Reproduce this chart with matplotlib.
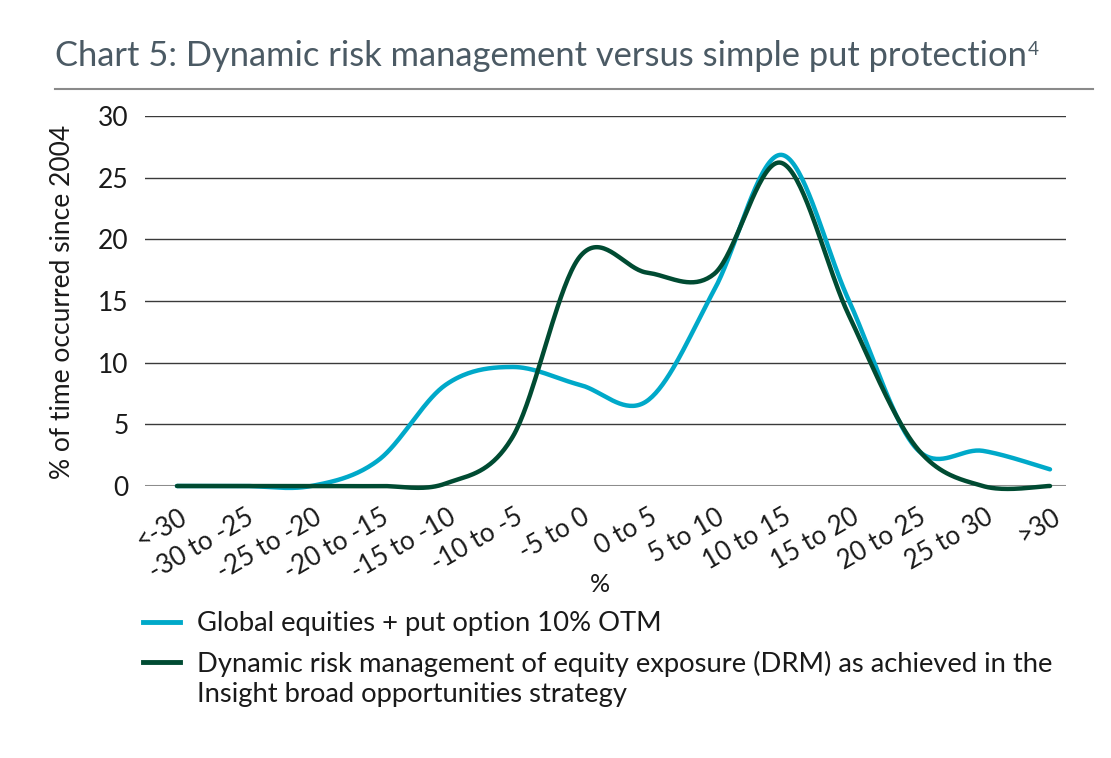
import numpy as np
import matplotlib
matplotlib.use("Agg")
import matplotlib.pyplot as plt
from matplotlib.lines import Line2D
from matplotlib.transforms import ScaledTranslation

plt.rcParams['font.family'] = ['Lato', 'DejaVu Sans']

# data (% of time occurred since 2004)
categories = ["<-30", "-30 to -25", "-25 to -20", "-20 to -15", "-15 to -10", "-10 to -5",
              "-5 to 0", "0 to 5", "5 to 10", "10 to 15", "15 to 20", "20 to 25",
              "25 to 30", ">30"]
put_option = [0.0, 0.0, 0.0, 2.1, 8.2, 9.65, 8.2, 6.9, 15.9, 26.85, 15.1, 3.1, 2.85, 1.35]
drm = [0.0, 0.0, 0.0, 0.0, 0.2, 4.0, 18.6, 17.3, 17.2, 26.2, 13.9, 3.2, 0.0, 0.0]

series_names = ["Global equities + put option 10% OTM",
                "Dynamic risk management of equity exposure (DRM) as achieved in the\n"
                "Insight broad opportunities strategy"]

BLUE = "#00A9C9"
GREEN = "#004B32"
W, H = 1111, 758


def smooth(values, n=40):
    """Excel style smoothed line: bezier segments through every point"""
    pts = np.column_stack([np.arange(len(values)), values]).astype(float)
    ext = np.vstack([pts[0], pts, pts[-1]])
    t = np.linspace(0, 1, n)[:, None]
    out = []
    for i in range(len(pts) - 1):
        p0, p1, p2, p3 = ext[i], ext[i + 1], ext[i + 2], ext[i + 3]
        c1 = p1 + (p2 - p0) / 6
        c2 = p2 - (p3 - p1) / 6
        seg = (1 - t) ** 3 * p1 + 3 * (1 - t) ** 2 * t * c1 + 3 * (1 - t) * t ** 2 * c2 + t ** 3 * p2
        out.append(seg if i == 0 else seg[1:])
    out = np.vstack(out)
    return out[:, 0], out[:, 1]


fig = plt.figure(figsize=(W / 100, H / 100), dpi=100)
renderer = fig.canvas.get_renderer()


def fit_size(text, target_px, base=20):
    t = fig.text(0, 0, text, fontsize=base)
    w = t.get_window_extent(renderer).width
    t.remove()
    return base * target_px / w


ax = fig.add_axes([145 / W, 1 - 486 / H, (1066 - 145) / W, (486 - 116) / H])
step = (1050 - 177) / 13
ax.set_xlim(-(177 - 145) / step, 13 + (1066 - 1050) / step)
ax.set_ylim(0, 30)

for v in range(0, 31, 5):
    if v == 0:
        ax.axhline(v, color="#8c8c8c", lw=2.2, zorder=1)
    else:
        ax.axhline(v, color="#3a3a3a", lw=1.0, zorder=1)

x_blue, y_blue = smooth(put_option)
x_green, y_green = smooth(drm)
ax.plot(x_blue, y_blue, color=BLUE, lw=3.2, zorder=3, clip_on=False, solid_capstyle="round")
ax.plot(x_green, y_green, color=GREEN, lw=3.2, zorder=4, clip_on=False, solid_capstyle="round")

for s in ax.spines.values():
    s.set_visible(False)

ax.set_yticks(range(0, 31, 5))
ax.tick_params(axis="y", length=0, labelsize=19, pad=12, labelcolor="#1a1a1a")
ax.set_xticks(range(len(categories)))
ax.set_xticklabels(categories, rotation=30, ha="right", va="center",
                   rotation_mode="anchor", fontsize=18.5, color="#1a1a1a")
ax.tick_params(axis="x", length=0, pad=21)
for lab in ax.get_xticklabels():
    lab.set_transform(lab.get_transform() + ScaledTranslation(8 / 100, 0, fig.dpi_scale_trans))

# axis labels
ylab = "% of time occurred since 2004"
fig.text(63 / W, 1 - 302 / H, ylab, rotation=90, ha="center", va="center",
         fontsize=fit_size(ylab, 355), color="#1a1a1a")
fig.text(600 / W, 1 - 584 / H, "%", ha="center", va="center", fontsize=18, color="#1a1a1a")

# title with superscript and rule
title = "Chart 5: Dynamic risk management versus simple put protection"
tsize = fit_size(title, 975)
tt = fig.text(55 / W, 1 - 66 / H, title, fontsize=tsize, va="baseline", color="#4B5A64")
bb = tt.get_window_extent(renderer)
fig.text((bb.x1 + 0.5) / W, 1 - 55 / H, "4", fontsize=tsize * 0.55, va="baseline", color="#4B5A64")
fig.add_artist(Line2D([55 / W, 1093 / W], [1 - 89 / H, 1 - 89 / H], color="#8a8a8a", lw=1.5))

# legend drawn by hand so the handle sits on the first text line
lsize = fit_size(series_names[1].split("\n")[0], 860)
for name, color, yc in [(series_names[0], BLUE, 622), (series_names[1], GREEN, 662)]:
    fig.add_artist(Line2D([143 / W, 180 / W], [1 - yc / H, 1 - yc / H], color=color, lw=3.5))
    fig.text(197 / W, 1 - (yc - 11) / H, name, fontsize=lsize, va="top", ha="left",
             color="#1a1a1a", linespacing=1.25)

fig.savefig("out.png", dpi=100)
